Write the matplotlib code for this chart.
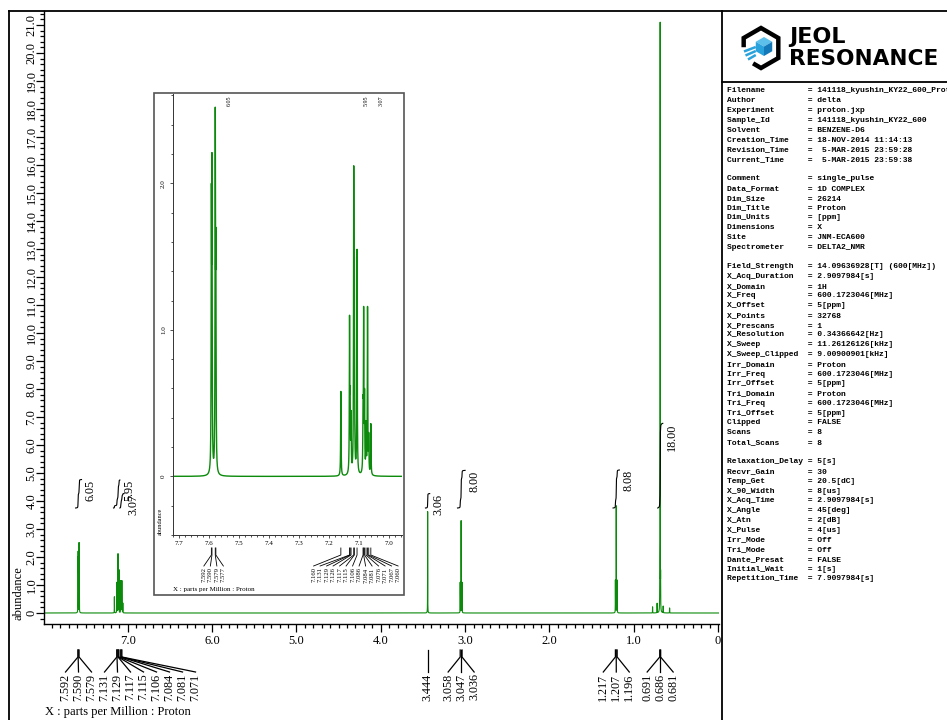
import numpy as np
import matplotlib
matplotlib.use("Agg")
import matplotlib.pyplot as plt
from matplotlib.lines import Line2D
from matplotlib.patches import Rectangle, Polygon
from matplotlib.ticker import MultipleLocator, FuncFormatter

W, H = 947, 720

# ---------------------------------------------------------------------------
# Spectrum: peak list (ppm, apparent height in abundance units)
# ---------------------------------------------------------------------------
PEAK_PPM = [7.592, 7.590, 7.579, 7.577,
            7.160, 7.131, 7.129, 7.126, 7.117, 7.115, 7.106,
            7.086, 7.084, 7.081, 7.076, 7.071, 7.067, 7.060,
            3.444,
            3.058, 3.047, 3.036,
            1.217, 1.207, 1.196,
            0.776, 0.722, 0.691, 0.686, 0.681, 0.650, 0.574]
PEAK_HEIGHT = [2.00, 2.21, 2.52, 1.70,
               0.58, 1.10, 0.62, 0.45, 2.12, 1.50, 1.55,
               0.55, 1.16, 0.60, 0.38, 1.16, 0.30, 0.36,
               3.62,
               1.10, 3.30, 1.10,
               1.18, 3.83, 1.18,
               0.22, 0.35, 1.55, 21.10, 1.55, 0.25, 0.18]
LINE_HWHM = 0.0008

# peak pick labels (main trace / expansion)
MAIN_PICKS = [[7.592, 7.590, 7.579],
              [7.131, 7.129, 7.117, 7.115, 7.106, 7.084, 7.081, 7.071],
              [3.444],
              [3.058, 3.047, 3.036],
              [1.217, 1.207, 1.196],
              [0.691, 0.686, 0.681]]
INSET_PICKS = [[7.592, 7.590, 7.579, 7.577],
               [7.160, 7.131, 7.129, 7.126, 7.117, 7.115, 7.106,
                7.086, 7.084, 7.081, 7.076, 7.071, 7.067, 7.060]]

# integral regions
INT_FROM = [7.62, 7.17, 7.095, 3.47, 3.09, 1.245, 0.715]
INT_TO = [7.55, 7.095, 7.045, 3.42, 3.00, 1.170, 0.655]
INT_VALUE = [6.05, 5.95, 3.07, 3.06, 8.00, 8.08, 18.00]
INT_BASE = 3.75     # abundance level where integrals start
INT_SCALE = 0.168   # abundance units per integral unit

PARAMS = [
    ("Filename", "141118_kyushin_KY22_600_Proton-1-1.jdf"),
    ("Author", "delta"),
    ("Experiment", "proton.jxp"),
    ("Sample_Id", "141118_kyushin_KY22_600"),
    ("Solvent", "BENZENE-D6"),
    ("Creation_Time", "18-NOV-2014 11:14:13"),
    ("Revision_Time", " 5-MAR-2015 23:59:28"),
    ("Current_Time", " 5-MAR-2015 23:59:38"),
    None,
    ("Comment", "single_pulse"),
    ("Data_Format", "1D COMPLEX"),
    ("Dim_Size", "26214"),
    ("Dim_Title", "Proton"),
    ("Dim_Units", "[ppm]"),
    ("Dimensions", "X"),
    ("Site", "JNM-ECA600"),
    ("Spectrometer", "DELTA2_NMR"),
    None,
    ("Field_Strength", "14.09636928[T] (600[MHz])"),
    ("X_Acq_Duration", "2.9097984[s]"),
    ("X_Domain", "1H"),
    ("X_Freq", "600.1723046[MHz]"),
    ("X_Offset", "5[ppm]"),
    ("X_Points", "32768"),
    ("X_Prescans", "1"),
    ("X_Resolution", "0.34366642[Hz]"),
    ("X_Sweep", "11.26126126[kHz]"),
    ("X_Sweep_Clipped", "9.00900901[kHz]"),
    ("Irr_Domain", "Proton"),
    ("Irr_Freq", "600.1723046[MHz]"),
    ("Irr_Offset", "5[ppm]"),
    ("Tri_Domain", "Proton"),
    ("Tri_Freq", "600.1723046[MHz]"),
    ("Tri_Offset", "5[ppm]"),
    ("Clipped", "FALSE"),
    ("Scans", "8"),
    ("Total_Scans", "8"),
    None,
    ("Relaxation_Delay", "5[s]"),
    ("Recvr_Gain", "30"),
    ("Temp_Get", "20.5[dC]"),
    ("X_90_Width", "8[us]"),
    ("X_Acq_Time", "2.9097984[s]"),
    ("X_Angle", "45[deg]"),
    ("X_Atn", "2[dB]"),
    ("X_Pulse", "4[us]"),
    ("Irr_Mode", "Off"),
    ("Tri_Mode", "Off"),
    ("Dante_Presat", "FALSE"),
    ("Initial_Wait", "1[s]"),
    ("Repetition_Time", "7.9097984[s]"),
]

SPEC_GREEN = "#0b8a0b"
plt.rcParams["font.family"] = ["Liberation Serif", "DejaVu Serif"]


# ---------------------------------------------------------------------------
# Build the trace: Lorentzian lines whose summed heights hit PEAK_HEIGHT
# ---------------------------------------------------------------------------
def lorentz(x, centre):
    return 1.0 / (1.0 + ((x - centre) / LINE_HWHM) ** 2)


centres = np.array(PEAK_PPM)
overlap = lorentz(centres[:, None], centres[None, :])
amps = np.linalg.solve(overlap, np.array(PEAK_HEIGHT))

ppm = np.linspace(8.0, -0.1, 40501)
spec = np.zeros_like(ppm)
for c, a in zip(centres, amps):
    spec += a * lorentz(ppm, c)


# ---------------------------------------------------------------------------
# helpers working in figure pixels (y measured from the top)
# ---------------------------------------------------------------------------
fig = plt.figure(figsize=(W / 100, H / 100), dpi=100)


def fig_line(xs, ys, **kw):
    fig.add_artist(Line2D([x / W for x in xs], [1 - y / H for y in ys],
                          transform=fig.transFigure, **kw))


def fig_label(x, y, s, **kw):
    return fig.text(x / W, 1 - y / H, s, **kw)


def axes_rect(x0, y0, x1, y1):
    return [x0 / W, 1 - y1 / H, (x1 - x0) / W, (y1 - y0) / H]


def data_px(ax, value):
    return ax.transData.transform((value, 0))[0]


def tick_fmt(v, _pos):
    return "0" if abs(v) < 1e-9 else f"{v:.1f}"


def centre_ylabels(ax, target_x, pad):
    """Shift rotated y tick labels so their centres sit at target_x (pixels)."""
    fig.canvas.draw()
    bb = ax.get_yticklabels()[-1].get_window_extent()
    now = 0.5 * (bb.x0 + bb.x1)
    ax.tick_params(axis="y", pad=pad - (target_x - now) * 72 / 100)


def peak_fan(ax, groups, y_top, y_knee, y_end, gap, size, lw):
    last = -1e9
    for grp in groups:
        xs = [data_px(ax, p) for p in grp]
        mid = (xs[0] + xs[-1]) / 2
        n = len(grp)
        lx = [mid + (i - (n - 1) / 2) * gap for i in range(n)]
        shift = max(0.0, last + gap - lx[0])
        lx = [v + shift for v in lx]
        last = lx[-1]
        for p, x0, x1 in zip(grp, xs, lx):
            fig_line([x0, x0, x1], [y_top, y_knee, y_end], color="black", lw=lw)
            fig_label(x1, y_end + 1.5, f"{p:.3f}", rotation=90,
                      ha="center", va="top", fontsize=size)


# ---------------------------------------------------------------------------
# Main spectrum
# ---------------------------------------------------------------------------
ax = fig.add_axes(axes_rect(44, 11, 719, 624))
ax.plot(ppm, spec, color=SPEC_GREEN, lw=0.8)
ax.set_xlim(7.995, -0.012)
ax.set_ylim(-0.393, 21.5)
for side in ("top", "right"):
    ax.spines[side].set_visible(False)
for side in ("left", "bottom"):
    ax.spines[side].set_linewidth(1.0)

ax.xaxis.set_major_locator(MultipleLocator(1.0))
ax.xaxis.set_minor_locator(MultipleLocator(0.1))
ax.xaxis.set_major_formatter(FuncFormatter(tick_fmt))
yt = np.arange(0, 22, 1.0)
ax.set_yticks(yt, labels=[tick_fmt(v, None) for v in yt])
ax.yaxis.set_minor_locator(MultipleLocator(0.2))
ax.tick_params(which="both", direction="out", width=0.9, labelsize=9, pad=2)
ax.tick_params(which="major", length=6)
ax.tick_params(which="minor", length=3)
plt.setp(ax.get_yticklabels(), rotation=90, va="center")

# integral curves
for hi, lo, val in zip(INT_FROM, INT_TO, INT_VALUE):
    m = (ppm <= hi) & (ppm >= lo)
    cum = np.cumsum(spec[m])
    curve = INT_BASE + cum / cum[-1] * val * INT_SCALE
    ax.plot(ppm[m], curve, color="black", lw=0.8)
    top = INT_BASE + val * INT_SCALE
    tx, ty = ax.transData.transform((lo, top))
    fig_label(tx + 3, H - ty, f"{val:.2f}", rotation=90, ha="left", va="top", fontsize=8.7)

fig_label(18, 593, "abundance", rotation=90, ha="center", va="center", fontsize=9)
fig_label(45, 712, "X : parts per Million : Proton", ha="left", va="center", fontsize=9)
peak_fan(ax, MAIN_PICKS, 650, 657, 672, 13, 8.7, 0.9)

# ---------------------------------------------------------------------------
# Expansion of the aromatic region
# ---------------------------------------------------------------------------
fig.add_artist(Rectangle((154 / W, 1 - 595 / H), 250 / W, 502 / H, transform=fig.transFigure,
                         facecolor="white", edgecolor="#555555", lw=1.2, zorder=1))
ax_in = fig.add_axes(axes_rect(173, 94, 402, 535))
ax_in.set_zorder(2)
ax_in.patch.set_alpha(0)
ax_in.plot(ppm, spec, color=SPEC_GREEN, lw=1.0)
ax_in.set_xlim(7.72, 6.956)
ax_in.set_ylim(-0.4, 2.61)
for side in ("top", "right"):
    ax_in.spines[side].set_visible(False)
for side in ("left", "bottom"):
    ax_in.spines[side].set_linewidth(0.7)
    ax_in.spines[side].set_color("#333333")
ax_in.xaxis.set_major_locator(MultipleLocator(0.1))
ax_in.xaxis.set_minor_locator(MultipleLocator(0.02))
ax_in.xaxis.set_major_formatter(FuncFormatter(tick_fmt))
ax_in.set_yticks([0, 1.0, 2.0], labels=["0", "1.0", "2.0"])
ax_in.yaxis.set_minor_locator(MultipleLocator(0.2))
ax_in.tick_params(which="both", direction="out", width=0.6, labelsize=5, pad=1.5, color="#333333")
ax_in.tick_params(which="major", length=2.5)
ax_in.tick_params(which="minor", length=1.3)
plt.setp(ax_in.get_yticklabels(), rotation=90, va="center")

for lo, val in zip(INT_TO[:3], INT_VALUE[:3]):
    fig_label(data_px(ax_in, lo) + 3, 95, f"{val:.2f}", rotation=90,
              ha="left", va="top", fontsize=4.3, zorder=4)
fig_label(160, 521, "abundance", rotation=90, ha="center", va="center", fontsize=4.5, zorder=4)
fig_label(173, 589, "X : parts per Million : Proton", ha="left", va="center", fontsize=5, zorder=4)
peak_fan(ax_in, INSET_PICKS, 548, 555, 566, 6.5, 4.8, 0.6)

centre_ylabels(ax, 31.5, 2)
centre_ylabels(ax_in, 163.5, 1.5)

# ---------------------------------------------------------------------------
# Page frame, logo and parameter listing
# ---------------------------------------------------------------------------
fig_line([9, W], [11, 11], color="black", lw=1.3)
fig_line([9, 9], [11, H], color="black", lw=1.3)
fig_line([722, 722], [11, H], color="black", lw=1.3)
fig_line([722, W], [82, 82], color="black", lw=1.3)

cx, cy, r = 761, 48, 20
hexv = [(cx + r * np.cos(np.radians(a)), cy - r * np.sin(np.radians(a)))
        for a in (150, 90, 30, -30, -90, -150)]
outline = [(hexv[0][0], 45)] + hexv[:5] + [(hexv[4][0] - 6, hexv[4][1] - 3.5)]
fig_line([p[0] for p in outline], [p[1] for p in outline], color="black", lw=3.2,
         solid_joinstyle="miter")

ccx, ccy, cr = 764, 46.5, 9.5
c30, s30 = cr * np.cos(np.radians(30)), cr * np.sin(np.radians(30))
top_face = [(ccx, ccy - cr), (ccx + c30, ccy - s30), (ccx, ccy), (ccx - c30, ccy - s30)]
left_face = [(ccx - c30, ccy - s30), (ccx, ccy), (ccx, ccy + cr), (ccx - c30, ccy + s30)]
right_face = [(ccx, ccy), (ccx + c30, ccy - s30), (ccx + c30, ccy + s30), (ccx, ccy + cr)]
for face, col in ((top_face, "#5cc0ea"), (left_face, "#2aa3dc"), (right_face, "#1479b8")):
    fig.add_artist(Polygon([(x / W, 1 - y / H) for x, y in face], closed=True,
                           transform=fig.transFigure, facecolor=col, edgecolor="none"))
for y0, x0 in ((51.5, 744), (55.5, 745.5), (59.5, 748)):
    fig_line([x0, ccx - c30], [y0, y0 - 4.5], color="#2aa3dc", lw=1.8, solid_capstyle="butt")

fig_label(789, 43, "JEOL", ha="left", va="baseline", fontsize=16, fontweight="bold",
          family="DejaVu Sans")
fig_label(789, 65, "RESONANCE", ha="left", va="baseline", fontsize=15.6, fontweight="bold",
          family="DejaVu Sans")

row = 0
for item in PARAMS:
    if item is not None:
        key, val = item
        fig_label(727, 91 + row * 9.76, f"{key:<17}= {val}", ha="left", va="center",
                  fontsize=5.8, fontweight="bold", family="Liberation Mono")
    row += 1

fig.savefig("out.png", dpi=100)
